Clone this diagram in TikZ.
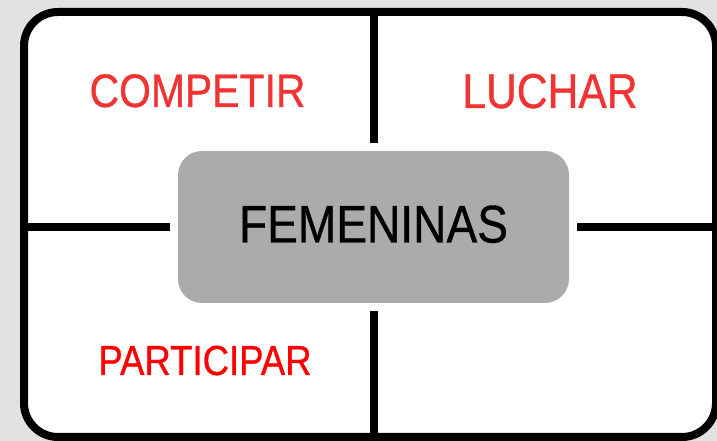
\documentclass[tikz,border=0pt]{standalone}
\usepackage{fontspec}
\setmainfont{Liberation Sans}[FakeStretch=0.87,FakeBold=0.7]
\usetikzlibrary{calc}
\definecolor{boxgray}{RGB}{171,171,171}
\definecolor{softred}{RGB}{240,52,52}
\definecolor{backgray}{RGB}{226,226,226}

\begin{document}
\begin{tikzpicture}[x=1pt,y=1pt]
      \tikzstyle{every node}=[inner sep=0pt]
      \tikzstyle{frame}=[draw=black,fill=white,line width=8pt,rounded corners=34pt,minimum width=692pt,minimum height=425pt]
      \tikzstyle{core}=[fill=boxgray,rounded corners=24pt,minimum width=391pt,minimum height=152pt,text depth=6pt,font=\fontsize{53}{56}\selectfont]
      \tikzstyle{divider}=[line width=8pt]
      \tikzstyle{word}=[anchor=base]
      % Background
      \fill[backgray] (0,0) rectangle (717,441);
      \useasboundingbox (0,0) rectangle (717,441);
      % Frame
      \node[frame] (frame) at (370,216.5) {};
      % Centre Box
      \node[core] (fem) at (373.5,214) {FEMENINAS};
      % Dividers
      \draw[divider,shorten >=8pt] (frame.north -| fem.north) -- (fem.north);
      \draw[divider,shorten <=8pt] (fem.south) -- (frame.south -| fem.south);
      \draw[divider,shorten >=8pt] (frame.west |- fem.west) -- (fem.west);
      \draw[divider,shorten <=8pt] (fem.east) -- (frame.east |- fem.east);
      % Words
      \node[word,text=softred,font=\fontsize{47}{50}\selectfont] (compete) at (197.5,334) {COMPETIR};
      \node[word,text=softred,font=\fontsize{49}{52}\selectfont] (fight) at (550,333) {LUCHAR};
      \node[word,text=red,font=\fontsize{42}{45}\selectfont] (take) at (205,66) {PARTICIPAR};
\end{tikzpicture}
\end{document}
